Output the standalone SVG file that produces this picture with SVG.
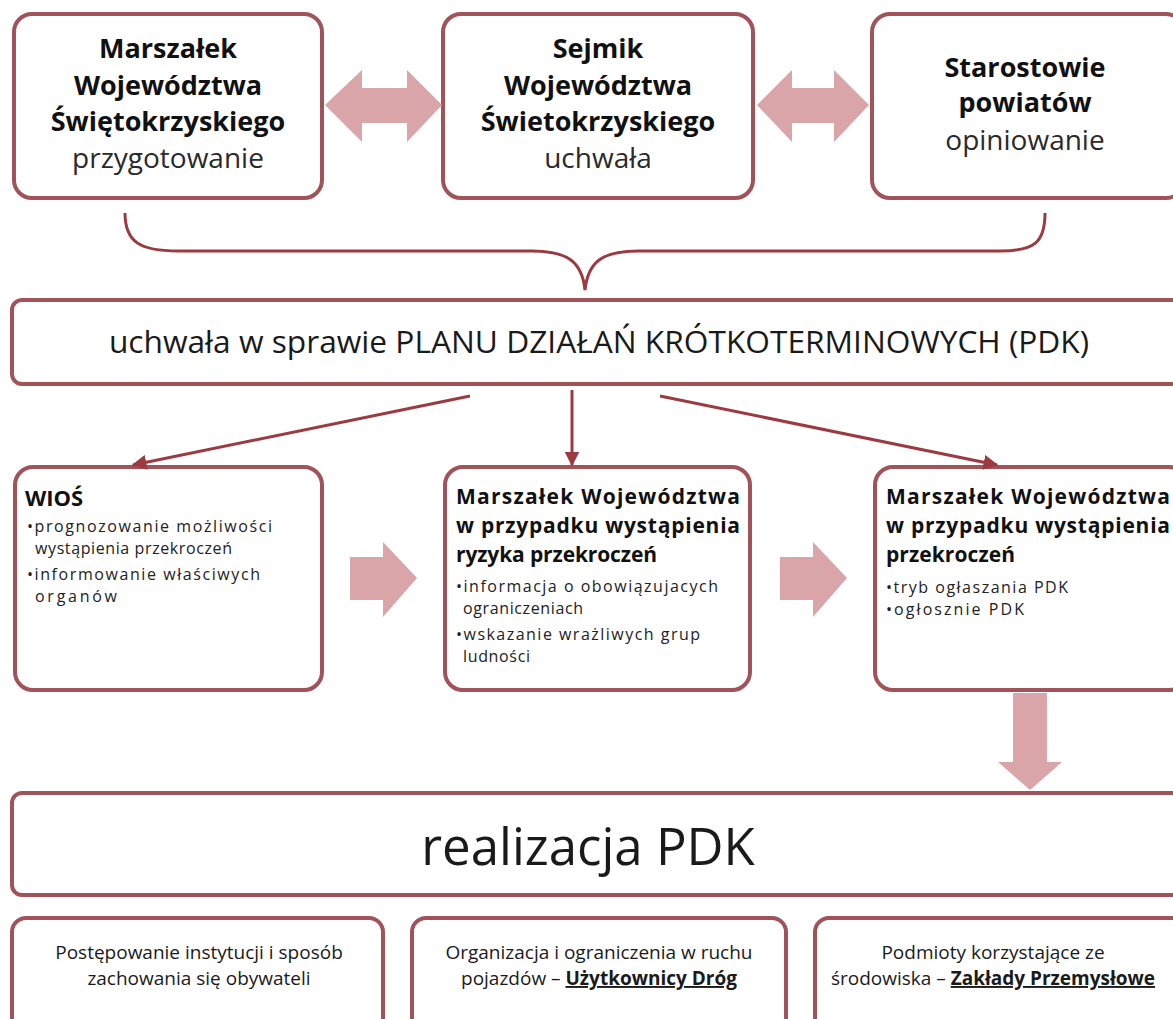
<svg xmlns="http://www.w3.org/2000/svg" width="1173" height="1019" viewBox="0 0 1173 1019">
<defs>
<style>
.box{fill:#fff;stroke:#a0545a;stroke-width:4}
.blk{fill:#d9a5a8}
.ln{stroke:#9b3a40;stroke-width:3;fill:none}
.t{font-family:"Open Sans","Noto Sans",sans-serif;fill:#1a1a1a}
.b{font-weight:bold;fill:#111}
.sub{fill:#2a2a2a}
.m{text-anchor:middle}
.tt{font-size:27px}
.ts{font-size:28px}
.h{font-size:21px}
.s{font-size:16px;fill:#222}
.bt{font-size:19px}
</style>
<marker id="ah" viewBox="0 0 10 10" refX="9" refY="5" markerWidth="5" markerHeight="5" orient="auto" markerUnits="strokeWidth">
<path d="M0,0 L10,5 L0,10 Z" fill="#9b3a40"/>
</marker>
</defs>
<rect width="1173" height="1019" fill="#fff"/>

<g id="n-marszalek-top">
<rect class="box" x="14" y="14" width="308" height="184" rx="18"/>
<text class="t b m tt" x="168" y="58">Marszałek</text>
<text class="t b m tt" x="168" y="95">Województwa</text>
<text class="t b m tt" x="168" y="131">Świętokrzyskiego</text>
<text class="t sub m ts" x="168" y="168">przygotowanie</text>
</g>
<g id="n-sejmik">
<rect class="box" x="443" y="14" width="310" height="184" rx="18"/>
<text class="t b m tt" x="598" y="58">Sejmik</text>
<text class="t b m tt" x="598" y="95">Województwa</text>
<text class="t b m tt" x="598" y="131">Świetokrzyskiego</text>
<text class="t sub m ts" x="598" y="168">uchwała</text>
</g>
<g id="n-starostowie">
<rect class="box" x="872" y="14" width="312" height="184" rx="18"/>
<text class="t b m tt" x="1025" y="77">Starostowie</text>
<text class="t b m tt" x="1025" y="112">powiatów</text>
<text class="t sub m ts" x="1025" y="150">opiniowanie</text>
</g>

<g id="n-pdk">
<rect class="box" x="12" y="300" width="1175" height="84" rx="10"/>
<text class="t m" x="599" y="353" font-size="31.7">uchwała w sprawie PLANU DZIAŁAŃ KRÓTKOTERMINOWYCH (PDK)</text>
</g>

<g id="n-wios">
<rect class="box" x="15" y="467" width="307" height="223" rx="18"/>
<text class="t b" x="25" y="506" font-size="22">WIOŚ</text>
<text class="t s" x="27" y="532" textLength="245">•prognozowanie możliwości</text>
<text class="t s" x="35" y="554" textLength="197">wystąpienia przekroczeń</text>
<text class="t s" x="27" y="580" textLength="233">•informowanie właściwych</text>
<text class="t s" x="35" y="602" textLength="82">organów</text>
</g>
<g id="n-marszalek-ryzyko">
<rect class="box" x="445" y="467" width="305" height="223" rx="18"/>
<text class="t b h" x="456" y="504" textLength="284">Marszałek Województwa</text>
<text class="t b h" x="456" y="533" textLength="284">w przypadku wystąpienia</text>
<text class="t b h" x="456" y="562" textLength="201">ryzyka przekroczeń</text>
<text class="t s" x="456" y="592" textLength="262">•informacja o obowiązujacych</text>
<text class="t s" x="463" y="614" textLength="120">ograniczeniach</text>
<text class="t s" x="456" y="640" textLength="244">•wskazanie wrażliwych grup</text>
<text class="t s" x="463" y="662" textLength="67">ludności</text>
</g>
<g id="n-marszalek-przekroczenia">
<rect class="box" x="875" y="467" width="312" height="223" rx="18"/>
<text class="t b h" x="886" y="504" textLength="284">Marszałek Województwa</text>
<text class="t b h" x="886" y="533" textLength="284">w przypadku wystąpienia</text>
<text class="t b h" x="886" y="562" textLength="129">przekroczeń</text>
<text class="t s" x="886" y="593" textLength="182">•tryb ogłaszania PDK</text>
<text class="t s" x="886" y="615" textLength="138">•ogłosznie PDK</text>
</g>

<g id="n-realizacja">
<rect class="box" x="12" y="793" width="1175" height="102" rx="10"/>
<text class="t m" x="588" y="865" font-size="51">realizacja PDK</text>
</g>

<g id="n-postepowanie">
<rect class="box" x="12" y="918" width="371" height="130" rx="14"/>
<text class="t m bt" x="199" y="959">Postępowanie instytucji i sposób</text>
<text class="t m bt" x="199" y="985">zachowania się obywateli</text>
</g>
<g id="n-organizacja">
<rect class="box" x="412" y="918" width="374" height="130" rx="14"/>
<text class="t m bt" x="599" y="959">Organizacja i ograniczenia w ruchu</text>
<text class="t m bt" x="599" y="985">pojazdów – <tspan font-weight="bold" text-decoration="underline">Użytkownicy Dróg</tspan></text>
</g>
<g id="n-podmioty">
<rect class="box" x="815" y="918" width="372" height="130" rx="14"/>
<text class="t m bt" x="993" y="959">Podmioty korzystające ze</text>
<text class="t m bt" x="993" y="985">środowiska – <tspan font-weight="bold" text-decoration="underline">Zakłady Przemysłowe</tspan></text>
</g>

<g id="connectors">
<path class="blk" d="M325,105 L362,70 L362,88 L407,88 L407,70 L442,105 L407,142 L407,123 L362,123 L362,142 Z"/>
<path class="blk" d="M757,105 L792,70 L792,88 L834,88 L834,70 L869,105 L834,142 L834,123 L792,123 L792,142 Z"/>
<path class="ln" d="M125,213 C125,242 140,251 178,251 L532,251 C568,251 582,262 585,290 C588,262 602,251 638,251 L1000,251 C1035,251 1045,242 1045,213"/>
<line class="ln" x1="470" y1="396" x2="133" y2="465" marker-end="url(#ah)"/>
<line class="ln" x1="572" y1="390" x2="572" y2="465" marker-end="url(#ah)"/>
<line class="ln" x1="660" y1="396" x2="997" y2="465" marker-end="url(#ah)"/>
<path class="blk" d="M350,557 L383,557 L383,542 L417,578 L383,617 L383,600 L350,600 Z"/>
<path class="blk" d="M780,557 L813,557 L813,542 L847,578 L813,617 L813,600 L780,600 Z"/>
<path class="blk" d="M1013,693 L1047,693 L1047,762 L1062,762 L1030,790 L998,762 L1013,762 Z"/>
</g>
</svg>
